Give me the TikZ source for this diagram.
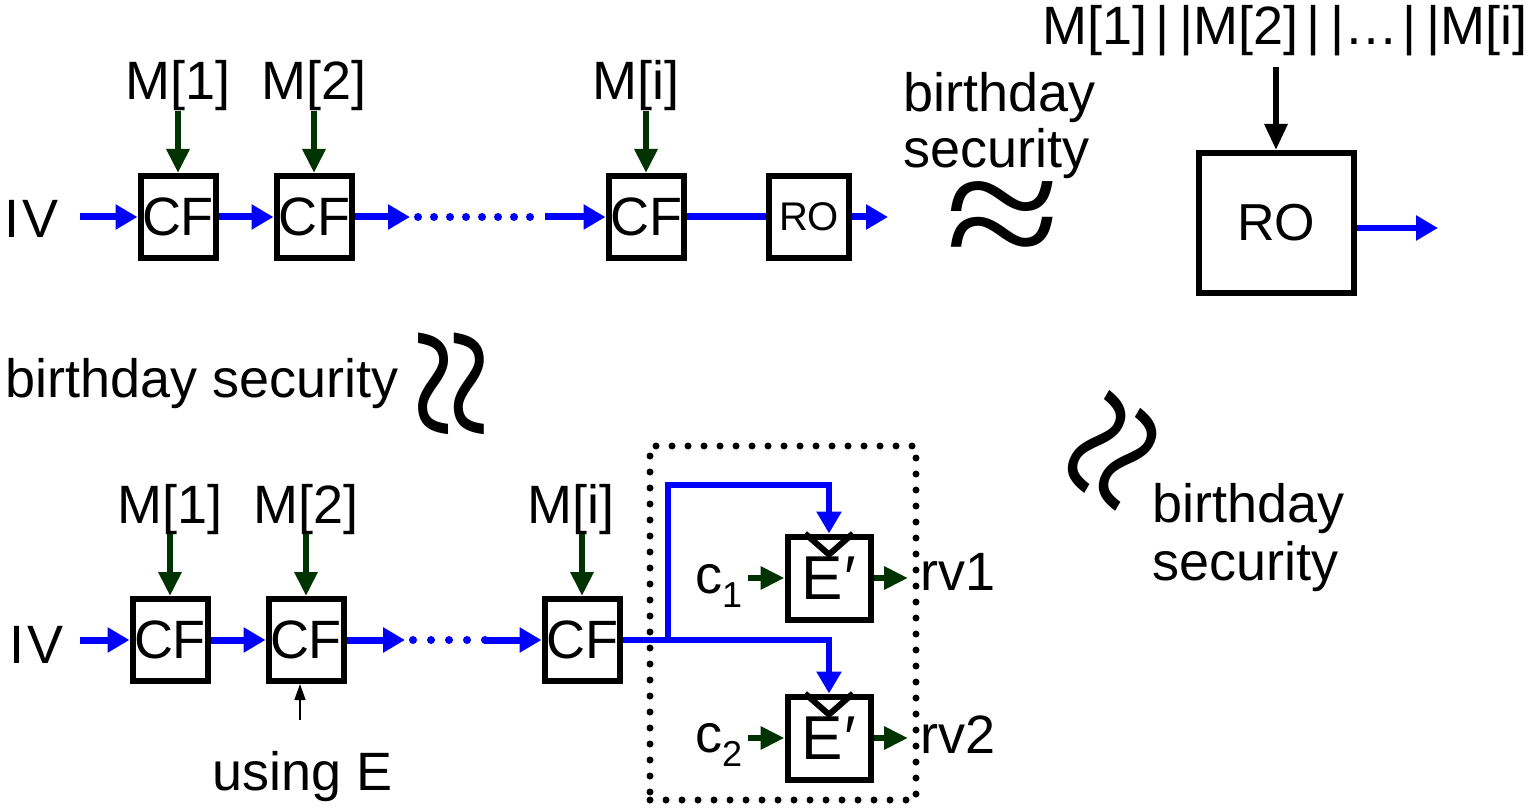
\documentclass[tikz,border=0pt]{standalone}
\usepackage{fontspec}
\setmainfont{Liberation Sans}
\newfontfamily\wavefont{Liberation Serif}
\usetikzlibrary{arrows.meta,calc}
\definecolor{arrblue}{RGB}{0,0,255}
\definecolor{arrgreen}{RGB}{0,51,0}
\newcommand{\wavesym}{\scalebox{1}[0.85]{≈}}
\begin{document}
\begin{tikzpicture}[x=1pt,y=-1pt,
  txt/.style={inner sep=0pt, font=\fontsize{54}{60}\selectfont},
  box/.style={draw, line width=6pt, inner sep=0pt, font=\fontsize{54}{60}\selectfont, minimum width=75pt, minimum height=82pt},
  ebox/.style={draw, line width=6pt, inner sep=0pt, font=\fontsize{62}{66}\selectfont, minimum width=83pt, minimum height=83pt},
  bluearr/.style={draw=arrblue, line width=7pt, -{Triangle[length=22pt,width=24pt]}},
  blueln/.style={draw=arrblue, line width=7pt},
  bluedots/.style={draw=arrblue, line width=8pt, line cap=round, dash pattern=on 0pt off 16pt},
  grarr/.style={draw=arrgreen, line width=6pt, -{Triangle[length=24pt,width=22pt]}},
  blkarr/.style={draw=black, line width=6pt, -{Triangle[length=26pt,width=22pt]}},
  thinarr/.style={draw=black, line width=1.5pt, -{Triangle[length=16pt,width=11pt]}},
  wave/.style={inner sep=0pt, font=\wavefont\fontsize{210}{210}\selectfont},
  dotbox/.style={draw, line width=7pt, line cap=round, dash pattern=on 0pt off 16pt, inner sep=0pt}
]
\useasboundingbox (0,0) rectangle (1539,810);

% ---------- top chain ----------
\node[txt, anchor=base] (iv1) at (32,238) {I\hspace{3pt}V};
\node[box] (cf1) at (178,217) {CF};
\node[box] (cf2) at (314,217) {CF};
\node[box] (cf3) at (646,217) {CF};
\node[box, minimum width=80pt, font=\fontsize{40}{44}\selectfont] (ro1) at (809,217) {RO};
\node[txt, anchor=base] (m1) at (178,100) {M[1]};
\node[txt, anchor=base] (m2) at (314,100) {M[2]};
\node[txt, anchor=base] (m3) at (636,100) {M[i]};
\coordinate (ivs1) at (80,217);
\coordinate (d1) at (410,217);
\coordinate (d1b) at (418,217);
\coordinate (d2) at (545,217);
\coordinate (ro1o) at (888,217);
\draw[bluearr] (ivs1) -- (cf1.west);
\draw[bluearr] (cf1.east) -- (cf2.west);
\draw[bluearr] (cf2.east) -- (d1);
\draw[bluedots] (d1b) -- (d2);
\draw[bluearr] (d2) -- (cf3.west);
\draw[blueln] (cf3.east) -- (ro1.west);
\draw[bluearr] (ro1.east) -- (ro1o);
\draw[grarr] (m1.south) -- (cf1.north);
\draw[grarr] (m2.south) -- (cf2.north);
\draw[grarr] (cf3.north |- m3.south) -- (cf3.north);

% ---------- top right ----------
\node[txt, anchor=base west] (bd1a) at (903,112) {birthday};
\node[txt, anchor=base west] (bd1b) at (903,168) {security};
\node[wave] (ap1) at (1003,228) {\wavesym};
\node[txt, anchor=base] (mcat) at (1285,45) {M[1]\hspace{8pt}|\hspace{10pt}|M[2]\hspace{8pt}|\hspace{10pt}|\ldots\hspace{4pt}|\hspace{10pt}|M[i]};
\node[box, minimum width=155pt, minimum height=140pt, font=\fontsize{52}{56}\selectfont] (ro2) at (1276,223) {RO};
\coordinate (ro2o) at (1438,228);
\draw[blkarr, shorten <=10pt] (mcat.south -| ro2.north) -- (ro2.north);
\draw[bluearr, line width=6pt] (ro2.east |- ro2o) -- (ro2o);

% ---------- middle ----------
\node[txt, anchor=base west] (bd2) at (5,397) {birthday security};
\node[wave, rotate=90] (ap2) at (465,383) {\wavesym};
\node[wave, rotate=60] (ap3) at (1124,457) {\wavesym};
\node[txt, anchor=base west] (bd3a) at (1152,522) {birthday};
\node[txt, anchor=base west] (bd3b) at (1152,580) {security};

% ---------- bottom chain ----------
\node[txt, anchor=base] (iv2) at (37,663) {I\hspace{3pt}V};
\node[box] (cf4) at (170,640) {CF};
\node[box] (cf5) at (306,640) {CF};
\node[box] (cf6) at (582,640) {CF};
\node[txt, anchor=base] (m4) at (170,523) {M[1]};
\node[txt, anchor=base] (m5) at (306,523) {M[2]};
\node[txt, anchor=base] (m6) at (571,523) {M[i]};
\coordinate (ivs2) at (80,640);
\coordinate (d3) at (405,640);
\coordinate (d3b) at (413,640);
\coordinate (d4) at (485,640);
\draw[bluearr] (ivs2) -- (cf4.west);
\draw[bluearr] (cf4.east) -- (cf5.west);
\draw[bluearr] (cf5.east) -- (d3);
\draw[bluedots, dash pattern=on 0pt off 18pt] (d3b) -- (d4);
\draw[bluearr] (d4) -- (cf6.west);
\draw[grarr] (m4.south) -- (cf4.north);
\draw[grarr] (m5.south) -- (cf5.north);
\draw[grarr] (cf6.north |- m6.south) -- (cf6.north);
\node[txt, anchor=base] (use) at (303,790) {using E};
\coordinate (ue) at (300,720);
\draw[thinarr] (ue) -- (ue |- cf5.south);

% ---------- dotted group ----------
\node[dotbox, minimum width=266pt, minimum height=354pt] (grp) at (783,623) {};
\node[ebox] (e1) at (829,578) {E\hspace{2pt}′};
\node[ebox] (e2) at (829,738) {E\hspace{2pt}′};
\draw[line width=6pt, line join=miter] ($(e1.north)+(-24,0)$) -- ($(e1.north)+(0,21)$) -- ($(e1.north)+(24,0)$);
\draw[line width=6pt, line join=miter] ($(e2.north)+(-24,0)$) -- ($(e2.north)+(0,21)$) -- ($(e2.north)+(24,0)$);
\coordinate (br) at (668,640);
\coordinate (tp) at (668,485);
\draw[blueln, line width=6pt] (cf6.east) -- (br);
\draw[bluearr, line width=6pt] (br) -- (tp) -- (tp -| e1.north) -- (e1.north);
\draw[bluearr, line width=6pt] (br) -- (br -| e2.north) -- (e2.north);
\node[txt, anchor=base west] (c1) at (695,593) {c\raisebox{-14pt}{\fontsize{36}{36}\selectfont 1}};
\node[txt, anchor=base west] (c2) at (695,752) {c\raisebox{-14pt}{\fontsize{36}{36}\selectfont 2}};
\draw[grarr, shorten <=6pt] (c1.east |- e1.west) -- (e1.west);
\draw[grarr, shorten <=6pt] (c2.east |- e2.west) -- (e2.west);
\node[txt, anchor=base west] (rv1) at (920,590) {rv1};
\node[txt, anchor=base west] (rv2) at (920,753) {rv2};
\draw[grarr, shorten >=12pt] (e1.east) -- (e1.east -| rv1.west);
\draw[grarr, shorten >=12pt] (e2.east) -- (e2.east -| rv2.west);
\end{tikzpicture}
\end{document}
